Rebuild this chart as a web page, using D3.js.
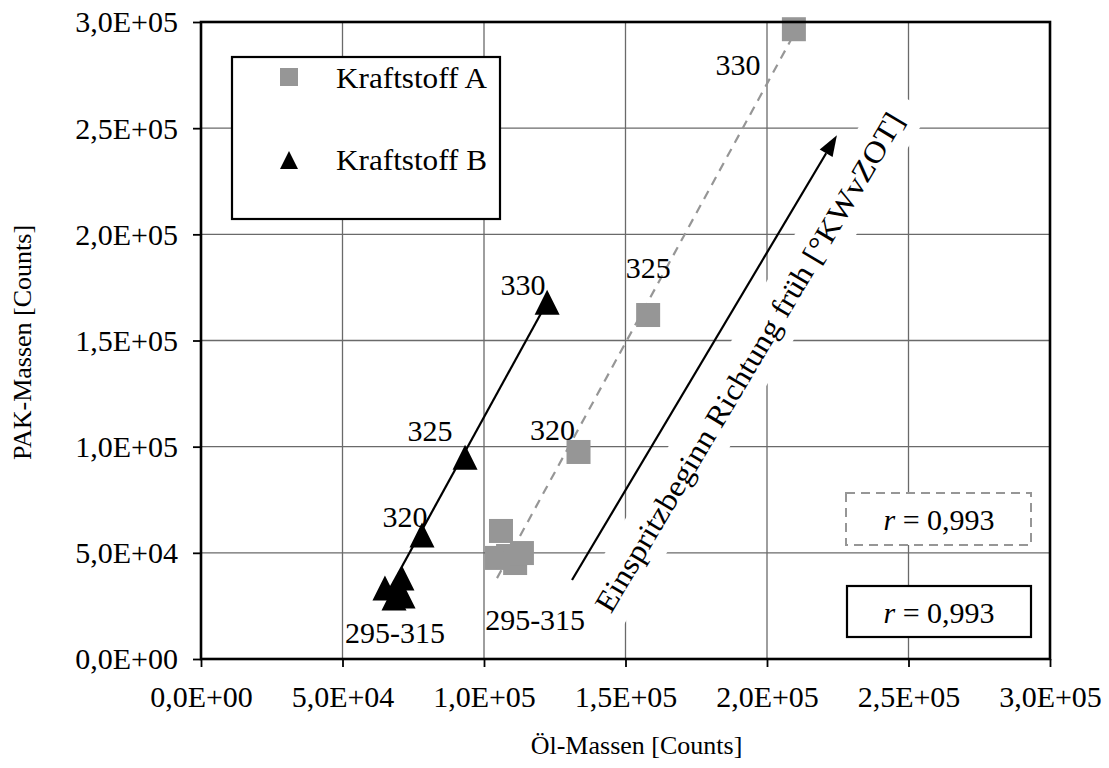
<!DOCTYPE html>
<html><head><meta charset="utf-8">
<script src="https://cdn.jsdelivr.net/npm/d3@7"></script>
<style>body{margin:0;background:#fff}</style>
</head><body><svg id="c" width="1109" height="768"></svg>
<script>
// ---- data ----
const tickValues = [0, 5e4, 1e5, 1.5e5, 2e5, 2.5e5, 3e5];
const tickLabels = ["0,0E+00","5,0E+04","1,0E+05","1,5E+05","2,0E+05","2,5E+05","3,0E+05"];
const seriesNames = ["Kraftstoff A", "Kraftstoff B"];
const oelA = [1.046e5, 1.060e5, 1.085e5, 1.110e5, 1.134e5, 1.334e5, 1.580e5, 2.095e5];
const pakA = [4.76e4, 6.03e4, 4.85e4, 4.52e4, 4.99e4, 9.75e4, 1.62e5, 2.966e5];
const oelB = [6.50e4, 6.82e4, 6.96e4, 7.14e4, 7.10e4, 7.81e4, 9.33e4, 1.223e5];
const pakB = [3.34e4, 2.87e4, 3.06e4, 2.97e4, 3.81e4, 5.84e4, 9.50e4, 1.68e5];
const labelTextsA = ["295-315", "320", "325", "330"];
const labelIdxA = [3, 5, 6, 7];
const labelTextsB = ["295-315", "320", "325", "330"];
const labelIdxB = [1, 5, 6, 7];
const trendA = [[1.046e5, 3.81e4], [2.115e5, 2.99e5]];
const trendB = [[6.50e4, 2.9e4], [1.223e5, 1.68e5]];
const arrowFrom = [1.311e5, 3.72e4];
const arrowTo = [2.247e5, 2.467e5];
const arrowText = "Einspritzbeginn Richtung früh [°KWvZOT]";
const rTextA = "0,993", rTextB = "0,993";
const xTitle = "Öl-Massen [Counts]";
const yTitle = "PAK-Massen [Counts]";

// ---- layout ----
const FONT = "'Liberation Serif','Times New Roman',serif";
const L = 201, R = 1050, T = 22, B = 659;
const svg = d3.select("#c");
const x = d3.scaleLinear().domain([0, 3e5]).range([L, R]);
const y = d3.scaleLinear().domain([0, 3e5]).range([B, T]);
const grey = "#969696";

// gridlines
const g = svg.append("g");
g.selectAll(".vg").data(tickValues.slice(1, -1)).enter().append("line")
  .attr("x1", d => x(d)).attr("x2", d => x(d)).attr("y1", T).attr("y2", B)
  .attr("stroke", "#6a6a6a").attr("stroke-width", 1.3);
g.selectAll(".hg").data(tickValues.slice(1, -1)).enter().append("line")
  .attr("y1", d => y(d)).attr("y2", d => y(d)).attr("x1", L).attr("x2", R)
  .attr("stroke", "#6a6a6a").attr("stroke-width", 1.3);

// axes
const xAxis = d3.axisBottom(x).tickValues(tickValues).tickSize(8).tickFormat((d, i) => tickLabels[i]);
const yAxis = d3.axisLeft(y).tickValues(tickValues).tickSize(8).tickFormat((d, i) => tickLabels[i]);
const gx = svg.append("g").attr("transform", `translate(0,${B})`).call(xAxis);
const gy = svg.append("g").attr("transform", `translate(${L},0)`).call(yAxis);
[gx, gy].forEach(a => {
  a.select(".domain").remove();
  a.selectAll(".tick line").attr("stroke", "#000").attr("stroke-width", 1.8);
  a.selectAll(".tick text").attr("font-family", FONT).attr("font-size", 30).attr("fill", "#000");
});
gx.selectAll(".tick text").attr("dy", null).attr("y", 48);
gy.selectAll(".tick text").attr("x", -23).attr("dy", "0.33em");

// axis titles
svg.append("text").attr("x", (L + R) / 2 + 11).attr("y", 754).attr("text-anchor", "middle")
  .attr("font-family", FONT).attr("font-size", 26).text(xTitle);
svg.append("text").attr("transform", `translate(31,${(T + B) / 2 + 2}) rotate(-90)`).attr("text-anchor", "middle")
  .attr("font-family", FONT).attr("font-size", 26).text(yTitle);

// arrow annotation geometry
const ax0 = x(arrowFrom[0]), ay0 = y(arrowFrom[1]), ax1 = x(arrowTo[0]), ay1 = y(arrowTo[1]);
const ang = Math.atan2(ay1 - ay0, ax1 - ax0);
const ux = Math.cos(ang), uy = Math.sin(ang), nx = -uy, ny = ux; // n points to lower-right
const mx = (ax0 + ax1) / 2, my = (ay0 + ay1) / 2;
const tcx = mx + 41 * (nx < 0 ? -nx : nx) + 19 * ux, tcy = my + 41 * Math.abs(ny) + 19 * uy;
const angDeg = ang * 180 / Math.PI;
const tg = svg.append("g").attr("transform", `translate(${tcx},${tcy}) rotate(${angDeg})`);
tg.append("rect").attr("x", -307).attr("y", -26.5).attr("width", 614).attr("height", 53).attr("fill", "#fff");

// legend box
svg.append("rect").attr("x", 232).attr("y", 57).attr("width", 268).attr("height", 162)
  .attr("fill", "#fff").attr("stroke", "#000").attr("stroke-width", 2.2);
// r boxes
svg.append("rect").attr("x", 846).attr("y", 493).attr("width", 185).attr("height", 52)
  .attr("fill", "#fff").attr("stroke", grey).attr("stroke-width", 2).attr("stroke-dasharray", "9,6");
svg.append("rect").attr("x", 847).attr("y", 586).attr("width", 184).attr("height", 51)
  .attr("fill", "#fff").attr("stroke", "#000").attr("stroke-width", 2.2);
function rText(cy, val) {
  const t = svg.append("text").attr("x", 939).attr("y", cy + 11).attr("text-anchor", "middle")
    .attr("font-family", FONT).attr("font-size", 30);
  t.append("tspan").attr("font-style", "italic").text("r");
  t.append("tspan").text(" = " + val);
}
rText(519, rTextA);
rText(611.5, rTextB);

// arrow text
tg.append("text").attr("x", 0).attr("y", 10).attr("text-anchor", "middle")
  .attr("font-family", FONT).attr("font-size", 30)
  .attr("textLength", 575).attr("lengthAdjust", "spacingAndGlyphs").text(arrowText);
// arrow
const headLen = 21, headW = 7.5;
const bx = ax1 - headLen * ux, by = ay1 - headLen * uy;
svg.append("line").attr("x1", ax0).attr("y1", ay0).attr("x2", bx).attr("y2", by)
  .attr("stroke", "#000").attr("stroke-width", 2.2);
svg.append("path").attr("d", `M${ax1},${ay1}L${bx + headW * nx},${by + headW * ny}L${bx - headW * nx},${by - headW * ny}Z`)
  .attr("fill", "#000");

// trend lines
const line = d3.line().x(d => x(d[0])).y(d => y(d[1]));
svg.append("path").attr("d", line(trendA)).attr("fill", "none").attr("stroke", grey)
  .attr("stroke-width", 2.2).attr("stroke-dasharray", "9,7");
svg.append("path").attr("d", line(trendB)).attr("fill", "none").attr("stroke", "#000")
  .attr("stroke-width", 2.2);

// points
const triPath = (s) => `M0,${-s / 2}L${s / 2},${s / 2}L${-s / 2},${s / 2}Z`;
const ptsA = oelA.map((v, i) => [v, pakA[i]]);
const ptsB = oelB.map((v, i) => [v, pakB[i]]);
svg.selectAll(".pa").data(ptsA).enter().append("rect")
  .attr("x", d => x(d[0]) - 12).attr("y", d => y(d[1]) - 12).attr("width", 24).attr("height", 24)
  .attr("fill", grey);
svg.selectAll(".pb").data(ptsB).enter().append("path")
  .attr("transform", d => `translate(${x(d[0])},${y(d[1])})`).attr("d", triPath(25)).attr("fill", "#000");

// point labels
const offA = [[20, 57], [-26, -22], [0, -47], [-56, 36]];
const offB = [[1, 35], [-17, -18], [-35, -26], [-24, -17]];
function addLabels(pts, texts, idx, offs) {
  texts.forEach((t, i) => {
    const p = pts[idx[i]];
    svg.append("text").attr("x", x(p[0]) + offs[i][0]).attr("y", y(p[1]) + offs[i][1] + 10)
      .attr("text-anchor", "middle").attr("font-family", FONT).attr("font-size", 30).text(t);
  });
}
addLabels(ptsA, labelTextsA, labelIdxA, offA);
addLabels(ptsB, labelTextsB, labelIdxB, offB);

// legend items
svg.append("rect").attr("x", 280).attr("y", 68).attr("width", 18).attr("height", 18).attr("fill", grey);
svg.append("path").attr("transform", "translate(289,160)").attr("d", triPath(18)).attr("fill", "#000");
svg.append("text").attr("x", 336).attr("y", 88).attr("font-family", FONT).attr("font-size", 30)
  .attr("textLength", 151).attr("lengthAdjust", "spacingAndGlyphs").text(seriesNames[0]);
svg.append("text").attr("x", 336).attr("y", 170).attr("font-family", FONT).attr("font-size", 30)
  .attr("textLength", 151).attr("lengthAdjust", "spacingAndGlyphs").text(seriesNames[1]);

// frame
svg.append("rect").attr("x", L).attr("y", T).attr("width", R - L).attr("height", B - T)
  .attr("fill", "none").attr("stroke", "#000").attr("stroke-width", 2.6);
</script></body></html>
